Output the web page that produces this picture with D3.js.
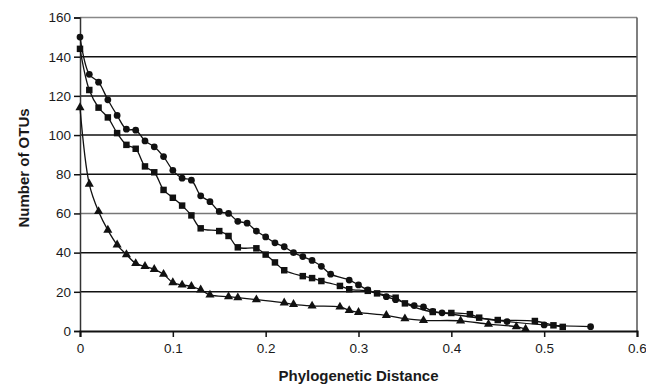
<!DOCTYPE html>
<html>
<head>
<meta charset="utf-8">
<script src="https://cdn.jsdelivr.net/npm/d3@7"></script>
<style>
  html, body { margin: 0; padding: 0; background: #fff; }
  svg { display: block; }
  text { font-family: "Liberation Sans", Arial, Helvetica, sans-serif; fill: #1a1a1a; }
</style>
</head>
<body>
<svg id="chart" width="646" height="387"></svg>
<script>
// ---- data ----
const circleX = [0, 0.01, 0.02, 0.03, 0.04, 0.05, 0.06, 0.07, 0.08, 0.09, 0.10, 0.11, 0.12, 0.13, 0.14, 0.15, 0.16, 0.17, 0.18, 0.19, 0.20, 0.21, 0.22, 0.23, 0.24, 0.25, 0.26, 0.27, 0.29, 0.30, 0.31, 0.33, 0.34, 0.36, 0.37, 0.38, 0.39, 0.46, 0.50, 0.55];
const circleY = [150, 131, 127, 118, 110, 103, 102.5, 97, 94, 89, 82, 78, 77, 69, 66, 61, 60, 56, 55, 51, 48, 45, 43, 40, 38, 36, 33, 29, 26, 23.5, 21, 17.5, 16, 13, 12.3, 10, 9.3, 4.8, 3.1, 2.2];

const squareX = [0, 0.01, 0.02, 0.03, 0.04, 0.05, 0.06, 0.07, 0.08, 0.09, 0.10, 0.11, 0.12, 0.13, 0.15, 0.16, 0.17, 0.19, 0.20, 0.21, 0.22, 0.24, 0.25, 0.26, 0.28, 0.29, 0.31, 0.32, 0.34, 0.35, 0.38, 0.40, 0.42, 0.43, 0.45, 0.49, 0.51, 0.52];
const squareY = [144, 123, 114, 109, 101, 95, 93, 84, 81, 72, 68, 64, 59, 52.4, 51, 48.5, 42.7, 42.2, 39, 35, 31, 28, 27, 25.5, 23, 21.3, 20.5, 19.2, 17, 14.1, 9.7, 9.2, 8.6, 6.8, 5.6, 5.1, 2.9, 2.1];

const triX = [0, 0.01, 0.02, 0.03, 0.04, 0.05, 0.06, 0.07, 0.08, 0.09, 0.10, 0.11, 0.12, 0.13, 0.14, 0.16, 0.17, 0.19, 0.22, 0.23, 0.25, 0.28, 0.29, 0.30, 0.33, 0.35, 0.37, 0.41, 0.44, 0.47, 0.48];
const triY = [114, 75, 61, 51.5, 44, 39, 34.5, 33, 31.5, 29, 24.7, 23.5, 22.8, 21, 18.4, 17.5, 17, 16, 14.4, 13.6, 12.8, 12.3, 10.5, 9.5, 8, 6.3, 5.4, 5.2, 3.5, 2.2, 1];

const xTicks = [0, 0.1, 0.2, 0.3, 0.4, 0.5, 0.6];
const yTicks = [0, 20, 40, 60, 80, 100, 120, 140, 160];
const xTitle = "Phylogenetic Distance";
const yTitle = "Number of OTUs";

// ---- layout ----
const svg = d3.select("#chart");
const mLeft = 80, mRight = 637, mTop = 17.5, mBottom = 331;
const x = d3.scaleLinear().domain([0, 0.6]).range([mLeft, mRight]);
const y = d3.scaleLinear().domain([0, 160]).range([mBottom, mTop]);

// gridlines
svg.append("g").selectAll("line")
  .data(yTicks.filter(d => d > 0 && d < 160))
  .join("line")
  .attr("x1", mLeft).attr("x2", mRight)
  .attr("y1", d => y(d)).attr("y2", d => y(d))
  .attr("stroke", d => d === 60 ? "#777" : "#111")
  .attr("stroke-width", 1.5);

// top and right border
svg.append("line").attr("x1", mLeft).attr("x2", mRight).attr("y1", y(160)).attr("y2", y(160))
  .attr("stroke", "#888").attr("stroke-width", 1.3);
svg.append("line").attr("x1", mRight).attr("x2", mRight).attr("y1", y(160)).attr("y2", y(0))
  .attr("stroke", "#555").attr("stroke-width", 1.5);

// axes
const yAxis = d3.axisLeft(y).tickValues(yTicks).tickSize(6).tickPadding(3).tickFormat(d3.format("d"));
const gy = svg.append("g").attr("transform", `translate(${mLeft},0)`).call(yAxis);
gy.select(".domain").attr("stroke", "#333").attr("stroke-width", 1.5);
gy.selectAll(".tick line").attr("stroke", "#111").attr("stroke-width", 1.5);
gy.selectAll(".tick text").attr("font-size", 13.5).attr("fill", "#1a1a1a")
  .attr("font-family", '"Liberation Sans", Arial, sans-serif');

const xAxis = d3.axisBottom(x).tickValues(xTicks).tickSize(6).tickPadding(6)
  .tickFormat(d => d === 0 ? "0" : d3.format(".1f")(d));
const gx = svg.append("g").attr("transform", `translate(0,${mBottom})`).call(xAxis);
gx.select(".domain").attr("stroke", "#111").attr("stroke-width", 2);
gx.selectAll(".tick line").attr("stroke", "#111").attr("stroke-width", 1.5);
gx.selectAll(".tick text").attr("font-size", 13.5).attr("fill", "#1a1a1a")
  .attr("font-family", '"Liberation Sans", Arial, sans-serif');

// titles
svg.append("text").attr("x", (mLeft + mRight) / 2).attr("y", 381)
  .attr("text-anchor", "middle").attr("font-size", 15).attr("font-weight", "bold")
  .text(xTitle);
svg.append("text").attr("transform", "translate(29,168) rotate(-90)")
  .attr("text-anchor", "middle").attr("font-size", 15).attr("font-weight", "bold")
  .text(yTitle);

// series
const line = d3.line().x(d => x(d[0])).y(d => y(d[1])).curve(d3.curveCatmullRom.alpha(0.5));
const series = [
  { xs: circleX, ys: circleY, sym: d3.symbolCircle, size: 36 },
  { xs: squareX, ys: squareY, sym: d3.symbolSquare, size: 42 },
  { xs: triX, ys: triY, sym: d3.symbolTriangle, size: 36 }
];
series.forEach(s => {
  const pts = s.xs.map((v, i) => [v, s.ys[i]]);
  svg.append("path").datum(pts).attr("d", line)
    .attr("fill", "none").attr("stroke", "#111").attr("stroke-width", 1.3);
  svg.append("g").selectAll("path").data(pts).join("path")
    .attr("transform", d => `translate(${x(d[0])},${y(d[1])})`)
    .attr("d", d3.symbol().type(s.sym).size(s.size))
    .attr("fill", "#111");
});
</script>
</body>
</html>
